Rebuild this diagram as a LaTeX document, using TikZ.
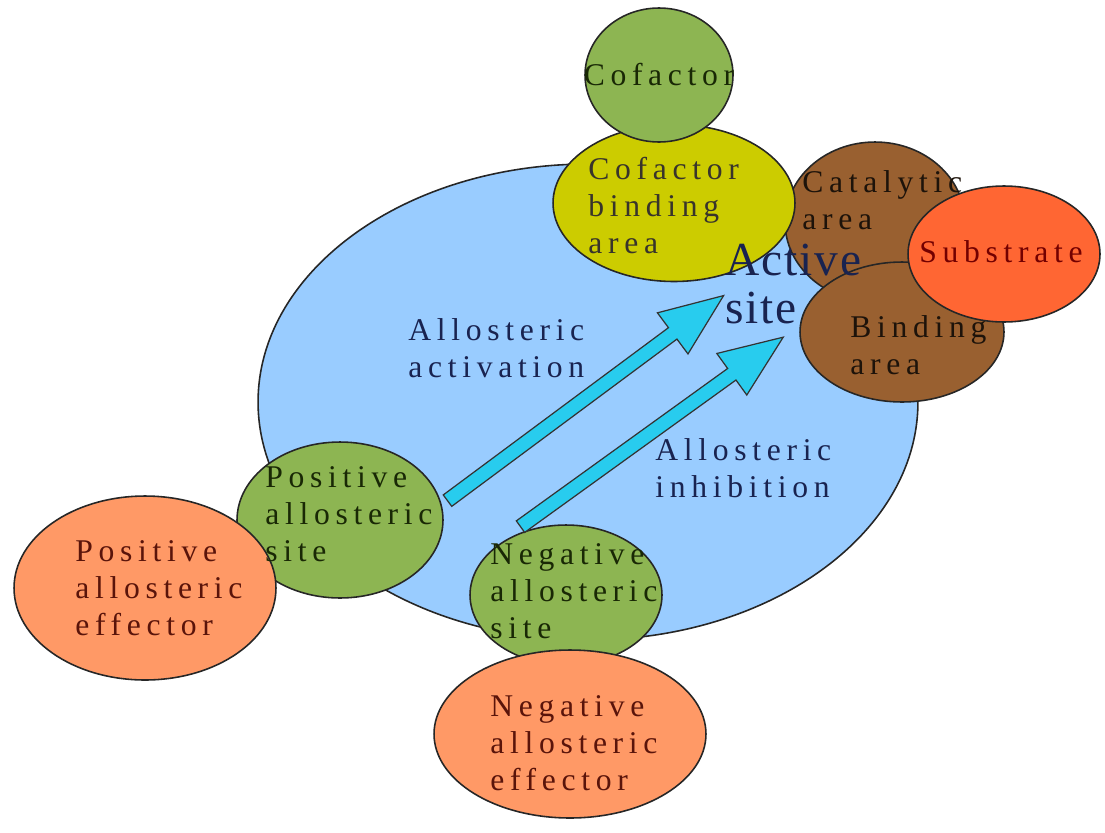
\documentclass[tikz,border=0pt]{standalone}
\usepackage{fontspec}
\setmainfont{Liberation Serif}
\newfontfamily\lblfont[LetterSpace=18]{Liberation Serif}
\newfontfamily\sitefont[LetterSpace=4]{Liberation Serif}
\usetikzlibrary{shapes.geometric,shapes.arrows}

\definecolor{enzblue}{RGB}{153,204,255}
\definecolor{sitegreen}{RGB}{141,181,82}
\definecolor{cofyellow}{RGB}{204,204,0}
\definecolor{actbrown}{RGB}{153,96,48}
\definecolor{substred}{RGB}{255,102,51}
\definecolor{efforange}{RGB}{255,153,102}
\definecolor{arrowcyan}{RGB}{40,204,238}
\definecolor{navytext}{RGB}{25,35,80}
\definecolor{greentext}{RGB}{25,40,5}
\definecolor{redtext}{RGB}{90,20,10}

\begin{document}
\begin{tikzpicture}[x=0.02cm, y=-0.02cm,
    blob/.style={ellipse, draw=black!85, line width=0.9pt, inner sep=0pt},
    lbl/.style={anchor=north west, inner sep=0pt, align=left,
      font=\lblfont\fontsize{18}{21}\selectfont},
    bigarrow/.style={single arrow, draw=black!80, fill=arrowcyan, line width=0.7pt,
      anchor=tail, inner xsep=0pt, inner ysep=0.13cm,
      single arrow head extend=0.37cm, single arrow tip angle=44}]
    \useasboundingbox (0,0) rectangle (1105,832);

    % Enzyme
    \node[blob, fill=enzblue, minimum width=13.2cm, minimum height=9.52cm] at (588,402) (enzyme) {};

    % Active site
    \node[blob, fill=actbrown, minimum width=3.6cm, minimum height=3.2cm] at (875,222) (catal) {};
    \node[blob, fill=actbrown, minimum width=4.08cm, minimum height=2.8cm] at (902,332) (bindA) {};
    \node[blob, fill=substred, minimum width=3.84cm, minimum height=2.72cm] at (1004,254) (subst) {};
    \node[blob, fill=cofyellow, minimum width=4.84cm, minimum height=3.14cm] at (674,203) (cofBind) {};
    \node[blob, fill=sitegreen, minimum width=2.96cm, minimum height=2.68cm] at (659,75) (cof) {};

    % Allosteric sites and effectors
    \node[blob, fill=sitegreen, minimum width=4.12cm, minimum height=3.12cm] at (340,520) (posSite) {};
    \node[blob, fill=efforange, minimum width=5.24cm, minimum height=3.68cm] at (145,588) (posEff) {};
    \node[blob, fill=sitegreen, minimum width=3.84cm, minimum height=2.8cm] at (566,595) (negSite) {};
    \node[blob, fill=efforange, minimum width=5.44cm, minimum height=3.36cm] at (570,734) (negEff) {};

    % Arrows
    \coordinate (actTail) at (447,501);
    \coordinate (inhTail) at (520,527);
    \node[bigarrow, minimum height=6.88cm, rotate=36.6] at (actTail) (actArrow) {};
    \node[bigarrow, minimum height=6.48cm, rotate=35.8] at (inhTail) (inhArrow) {};

    % Labels
    \node[lbl, anchor=center, text=greentext] at (659,75) (cofText) {Cofactor};
    \node[lbl, anchor=center, text=red!45!black] at (1001,252) (substText) {Substrate};
    \node[lbl, text=black!80!olive] at (588,157) (cofBindText) {Cofactor\\binding\\area};
    \node[lbl, text=black!85!brown] at (802,170) (catalText) {Catalytic\\area};
    \node[lbl, text=black!85!brown] at (850,315) (bindAText) {Binding\\area};
    \node[lbl, text=navytext, font=\sitefont\fontsize{27}{27}\selectfont] at (725,244) (activeText) {Active\\site};
    \node[lbl, text=navytext] at (408,318) (actText) {Allosteric\\activation};
    \node[lbl, text=navytext] at (655,438) (inhText) {Allosteric\\inhibition};
    \node[lbl, text=greentext] at (265,466) (posSiteText) {Positive\\allosteric\\site};
    \node[lbl, text=redtext] at (75,540) (posEffText) {Positive\\allosteric\\effector};
    \node[lbl, text=greentext] at (490,543) (negSiteText) {Negative\\allosteric\\site};
    \node[lbl, text=redtext] at (490,695) (negEffText) {Negative\\allosteric\\effector};
  \end{tikzpicture}
\end{document}
